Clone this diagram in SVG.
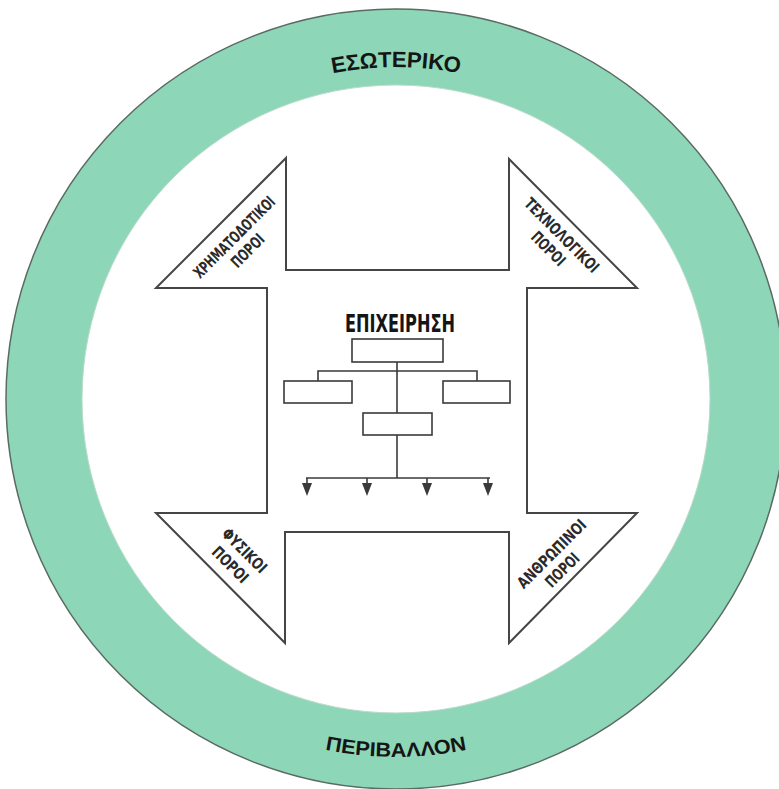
<svg xmlns="http://www.w3.org/2000/svg" width="779" height="789" viewBox="0 0 779 789">
<defs>
<style>
.ring{fill:none;stroke:#8dd7b8;stroke-width:76}
.ringedge{fill:none;stroke:#5a6a64;stroke-width:1.5}
.ringin{fill:none;stroke:#b9d9cb;stroke-width:1}
.ringtxt{font-family:"Liberation Sans","DejaVu Sans",sans-serif;font-weight:bold;fill:#151515}
.shape{fill:#fff;stroke:#454545;stroke-width:2;stroke-linejoin:miter}
.lbl{font-family:"DejaVu Sans Condensed","Liberation Sans",sans-serif;font-weight:bold;font-size:16px;fill:#2a2a2a;text-anchor:middle}
.title{font-family:"DejaVu Sans Condensed","Liberation Sans",sans-serif;font-weight:bold;font-size:25px;fill:#151515;text-anchor:middle}
.box{fill:#fff;stroke:#3a3a3a;stroke-width:1.6}
.con{fill:none;stroke:#3a3a3a;stroke-width:1.6}
</style>
<path id="arcTop" d="M 64,399 A 332,332 0 0 1 728,399"/>
<path id="arcBot" d="M 38,399 A 358,358 0 0 0 754,399"/>
<marker id="arrow" viewBox="0 0 13 10" refX="0" refY="5" markerWidth="13" markerHeight="10" markerUnits="userSpaceOnUse" orient="auto">
<path d="M0,0 L13,5 L0,10 z" fill="#3a3a3a"/>
</marker>
</defs>
<rect width="779" height="789" fill="#fff"/>
<g id="environment-ring">
<circle class="ring" cx="396" cy="399" r="352"/>
<circle class="ringedge" cx="396" cy="399" r="390"/>
<circle class="ringin" cx="396" cy="399" r="314"/>
<text class="ringtxt" font-size="22"><textPath href="#arcTop" startOffset="50%" text-anchor="middle" textLength="128" lengthAdjust="spacingAndGlyphs">ΕΣΩΤΕΡΙΚΟ</textPath></text>
<text class="ringtxt" font-size="20"><textPath href="#arcBot" startOffset="50%" text-anchor="middle" textLength="143" lengthAdjust="spacingAndGlyphs">ΠΕΡΙΒΑΛΛΟΝ</textPath></text>
</g>
<g id="resources-cross">
<polygon class="shape" points="286,158 286,270 509,270 509,159 637,288 527,288 527,513 637,513 509,643 509,532 285,532 285,643 156,513 267,513 267,288 156,288"/>
</g>
<g id="label-financial" transform="translate(241,244) rotate(-45)">
<text class="lbl" x="0" y="-4" textLength="108" lengthAdjust="spacingAndGlyphs">ΧΡΗΜΑΤΟΔΟΤΙΚΟΙ</text>
<text class="lbl" x="0" y="15" textLength="40" lengthAdjust="spacingAndGlyphs">ΠΟΡΟΙ</text>
</g>
<g id="label-technological" transform="translate(555,242) rotate(45)">
<text class="lbl" x="0" y="-4" textLength="98" lengthAdjust="spacingAndGlyphs">ΤΕΧΝΟΛΟΓΙΚΟΙ</text>
<text class="lbl" x="0" y="15" textLength="41" lengthAdjust="spacingAndGlyphs">ΠΟΡΟΙ</text>
</g>
<g id="label-physical" transform="translate(237,558) rotate(45)">
<text class="lbl" x="0" y="-5" textLength="56" lengthAdjust="spacingAndGlyphs">ΦΥΣΙΚΟΙ</text>
<text class="lbl" x="0" y="15" textLength="44" lengthAdjust="spacingAndGlyphs">ΠΟΡΟΙ</text>
</g>
<g id="label-human" transform="translate(557,562) rotate(-45)">
<text class="lbl" x="2" y="-4" textLength="90" lengthAdjust="spacingAndGlyphs">ΑΝΘΡΩΠΙΝΟΙ</text>
<text class="lbl" x="-2" y="15" textLength="41" lengthAdjust="spacingAndGlyphs">ΠΟΡΟΙ</text>
</g>
<g id="title-business">
<text class="title" x="400" y="332" textLength="110" lengthAdjust="spacingAndGlyphs">ΕΠΙΧΕΙΡΗΣΗ</text>
</g>
<g id="connectors">
<line class="con" x1="397" y1="362" x2="397" y2="413"/>
<polyline class="con" points="318,381 318,371 477,371 477,381"/>
<line class="con" x1="397" y1="435" x2="397" y2="478"/>
<line class="con" x1="306" y1="478" x2="490" y2="478"/>
<line class="con" x1="307" y1="478" x2="307" y2="483" marker-end="url(#arrow)"/>
<line class="con" x1="367" y1="478" x2="367" y2="483" marker-end="url(#arrow)"/>
<line class="con" x1="427" y1="478" x2="427" y2="483" marker-end="url(#arrow)"/>
<line class="con" x1="488" y1="478" x2="488" y2="483" marker-end="url(#arrow)"/>
</g>
<g id="box-top"><rect class="box" x="352" y="339" width="91" height="23"/></g>
<g id="box-left"><rect class="box" x="284" y="381" width="68" height="22"/></g>
<g id="box-right"><rect class="box" x="443" y="381" width="67" height="22"/></g>
<g id="box-middle"><rect class="box" x="363" y="413" width="69" height="22"/></g>
</svg>
